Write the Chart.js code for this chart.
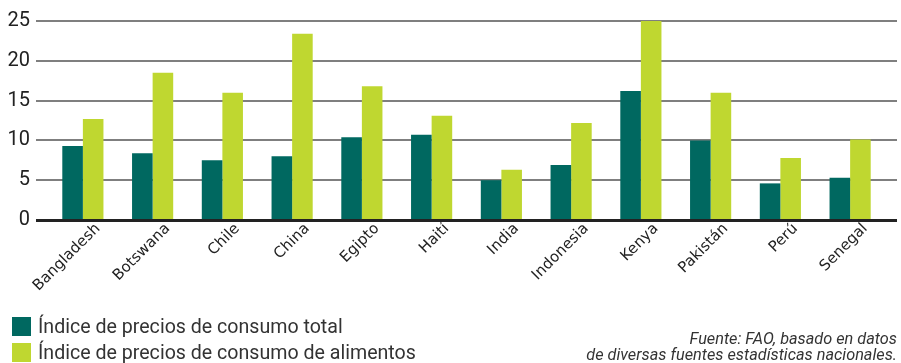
<!DOCTYPE html>
<html lang="es">
<head>
<meta charset="utf-8">
<script src="https://cdn.jsdelivr.net/npm/chart.js@4"></script>
<style>
  html, body { margin: 0; padding: 0; background: #fff; }
  #wrap { position: relative; width: 901px; height: 363px; overflow: hidden; }
  canvas { position: absolute; left: 0; top: 0; }
  .leg { position: absolute; left: 12px; font-family: Roboto, sans-serif; font-size: 19.6px; color: #333; white-space: nowrap; line-height: 22px; }
  .leg span.sw { display: inline-block; width: 19px; height: 19px; vertical-align: -3px; margin-right: 7px; }
  .src { position: absolute; right: 4px; font-family: Roboto, sans-serif; font-style: italic; font-size: 16.3px; color: #333; text-align: right; white-space: nowrap; line-height: 16px; }
</style>
</head>
<body>
<div id="wrap">
  <canvas id="c" width="901" height="363"></canvas>
  <div class="leg" style="top:316px"><span class="sw" style="background:#006860"></span>Índice de precios de consumo total</div>
  <div class="leg" style="top:342px"><span class="sw" style="background:#bfd730"></span>Índice de precios de consumo de alimentos</div>
  <div class="src" style="top:331px">Fuente: FAO, basado en datos<br>de diversas fuentes estadísticas nacionales.</div>
</div>
<script>
const countries = ['Bangladesh', 'Botswana', 'Chile', 'China', 'Egipto', 'Haití',
                   'India', 'Indonesia', 'Kenya', 'Pakistán', 'Perú', 'Senegal'];
const totalCPI = [9.3, 8.4, 7.5, 8.0, 10.4, 10.7, 5.0, 6.9, 16.2, 10.0, 4.6, 5.3];
const foodCPI  = [12.7, 18.5, 16.0, 23.4, 16.8, 13.1, 6.3, 12.2, 25.0, 16.0, 7.8, 10.1];
const yTicks   = [0, 5, 10, 15, 20, 25];

const GRID_LEFT = 36, GRID_RIGHT = 897;

// Horizontal grid lines spanning past the category area, plus a heavy baseline.
const gridPlugin = {
  id: 'customGrid',
  beforeDatasetsDraw(chart) {
    const ctx = chart.ctx, y = chart.scales.y;
    ctx.save();
    ctx.strokeStyle = '#555';
    ctx.lineWidth = 1.5;
    yTicks.forEach(v => {
      if (v === 0) return;
      const py = Math.round(y.getPixelForValue(v));
      ctx.beginPath();
      ctx.moveTo(GRID_LEFT, py);
      ctx.lineTo(GRID_RIGHT, py);
      ctx.stroke();
    });
    ctx.restore();
  },
  afterDatasetsDraw(chart) {
    const ctx = chart.ctx, y = chart.scales.y;
    const py = y.getPixelForValue(0) + 0.5;
    ctx.save();
    ctx.strokeStyle = '#222';
    ctx.lineWidth = 3;
    ctx.beginPath();
    ctx.moveTo(GRID_LEFT, py);
    ctx.lineTo(GRID_RIGHT, py);
    ctx.stroke();
    ctx.restore();
  }
};

new Chart(document.getElementById('c'), {
  type: 'bar',
  data: {
    labels: countries,
    datasets: [
      { label: 'Índice de precios de consumo total', data: totalCPI, backgroundColor: '#006860' },
      { label: 'Índice de precios de consumo de alimentos', data: foodCPI, backgroundColor: '#bfd730' }
    ]
  },
  options: {
    responsive: false,
    animation: false,
    devicePixelRatio: 1,
    categoryPercentage: 0.59,
    barPercentage: 1.0,
    layout: { autoPadding: false, padding: { left: 0, right: 16, top: 21, bottom: 0 } },
    plugins: { legend: { display: false }, tooltip: { enabled: false } },
    scales: {
      x: {
        grid: { display: false, drawTicks: false },
        border: { display: false },
        afterFit(scale) { scale.height = 143; },
        ticks: {
          autoSkip: false,
          minRotation: 45,
          maxRotation: 45,
          padding: 0,
          labelOffset: 15,
          color: '#222',
          font: { family: 'DejaVu Sans', size: 15 }
        }
      },
      y: {
        min: 0,
        max: 25,
        afterFit(scale) {
          scale.width = 48;
          // the label gap should not push the plot area down
          scale.paddingTop = 0;
          scale.paddingBottom = 0;
        },
        afterBuildTicks(scale) { scale.ticks = yTicks.map(v => ({ value: v })); },
        grid: { display: false, drawTicks: false },
        border: { display: false },
        ticks: {
          padding: 18,
          color: '#222',
          font: { family: 'Roboto', size: 20 }
        }
      }
    }
  },
  plugins: [gridPlugin]
});
</script>
</body>
</html>
